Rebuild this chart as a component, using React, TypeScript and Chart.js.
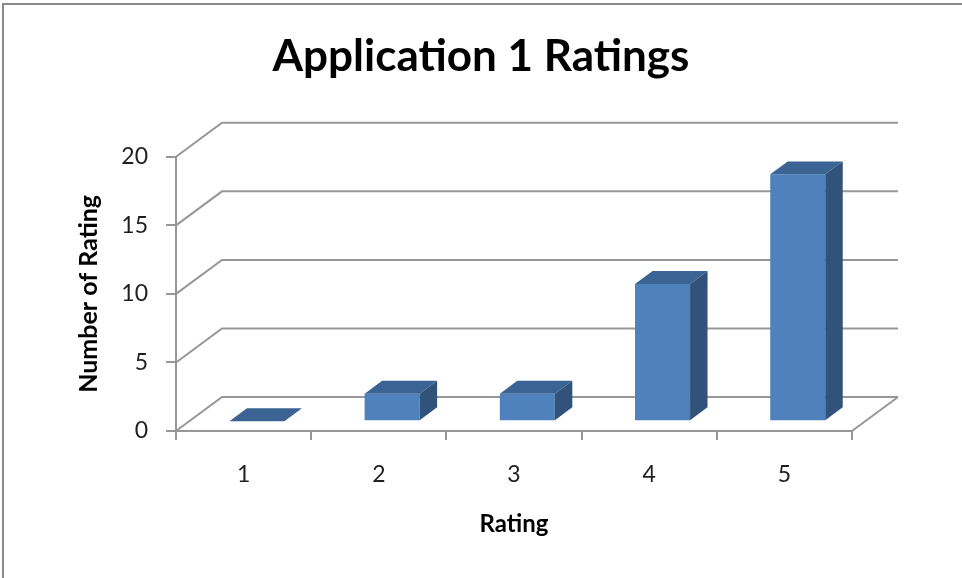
import { useEffect, useRef } from "react";
import { Chart, registerables } from "chart.js";

Chart.register(...registerables);

// Data
const categories = ["1", "2", "3", "4", "5"];
const ratingCounts = [0, 2, 2, 10, 18];
const yMin = 0;
const yMax = 20;
const yStep = 5;
const chartTitle = "Application 1 Ratings";
const xTitle = "Rating";
const yTitle = "Number of Rating";

// 3D look: depth of the floor/walls and where the columns sit inside it
const DEPTH_X = 46;
const DEPTH_Y = 34;
const BAR_FRONT = 0.29;
const BAR_BACK = 0.67;

const GRID_COLOR = "#979797";
const FRONT_COLOR = "#4f81bd";
const TOP_COLOR = "#3b6494";
const SIDE_COLOR = "#31537b";
const FONT = "Lato, 'Open Sans', sans-serif";

const W = 962;
const H = 578;

const threeDPlugin = {
  id: "threeD",
  beforeDraw(chart: any) {
    const { ctx } = chart;
    ctx.save();
    ctx.fillStyle = "#ffffff";
    ctx.fillRect(0, 0, chart.width, chart.height);
    // outer frame (top and left edges)
    ctx.fillStyle = "#8a8a8a";
    ctx.fillRect(2, 3, chart.width - 2, 2);
    ctx.fillRect(2, 3, 2, chart.height - 3);
    ctx.restore();
  },
  beforeDatasetsDraw(chart: any) {
    const { ctx, chartArea, scales } = chart;
    const y = scales.y;
    ctx.save();
    ctx.strokeStyle = GRID_COLOR;
    ctx.lineWidth = 2;
    ctx.lineJoin = "miter";
    for (const t of y.ticks) {
      const py = y.getPixelForValue(t.value);
      ctx.beginPath();
      ctx.moveTo(chartArea.left, py);
      ctx.lineTo(chartArea.left + DEPTH_X, py - DEPTH_Y);
      ctx.lineTo(chartArea.right + DEPTH_X, py - DEPTH_Y);
      ctx.stroke();
    }
    // right edge of the floor
    ctx.beginPath();
    ctx.moveTo(chartArea.right, chartArea.bottom);
    ctx.lineTo(chartArea.right + DEPTH_X, chartArea.bottom - DEPTH_Y);
    ctx.stroke();
    ctx.restore();

    // columns are drawn pushed back into the depth of the floor
    ctx.save();
    ctx.translate(DEPTH_X * BAR_FRONT, -DEPTH_Y * BAR_FRONT);
  },
  afterDatasetsDraw(chart: any) {
    const { ctx } = chart;
    const dx = DEPTH_X * (BAR_BACK - BAR_FRONT);
    const dy = DEPTH_Y * (BAR_BACK - BAR_FRONT);
    const meta = chart.getDatasetMeta(0);
    for (const el of meta.data) {
      const { x, y, width, base } = el.getProps(["x", "y", "width", "base"], true);
      const l = x - width / 2;
      const r = x + width / 2;
      // top face
      ctx.fillStyle = TOP_COLOR;
      ctx.beginPath();
      ctx.moveTo(l, y);
      ctx.lineTo(r, y);
      ctx.lineTo(r + dx, y - dy);
      ctx.lineTo(l + dx, y - dy);
      ctx.closePath();
      ctx.fill();
      // side face
      if (base - y > 0) {
        ctx.fillStyle = SIDE_COLOR;
        ctx.beginPath();
        ctx.moveTo(r, y);
        ctx.lineTo(r + dx, y - dy);
        ctx.lineTo(r + dx, base - dy);
        ctx.lineTo(r, base);
        ctx.closePath();
        ctx.fill();
      }
    }
    ctx.restore();
  },
};

export default function App() {
  const canvasRef = useRef<HTMLCanvasElement | null>(null);

  useEffect(() => {
    const canvas = canvasRef.current;
    if (!canvas) return;
    const chart = new Chart(canvas, {
      type: "bar",
      data: {
        labels: categories,
        datasets: [
          {
            label: yTitle,
            data: ratingCounts,
            backgroundColor: FRONT_COLOR,
            borderWidth: 0,
            categoryPercentage: 1,
            barPercentage: 0.407,
            clip: false as any,
          },
        ],
      },
      options: {
        responsive: false,
        animation: false,
        devicePixelRatio: 1,
        layout: { padding: 0 },
        plugins: {
          legend: { display: false },
          tooltip: { enabled: false },
          title: {
            display: true,
            text: chartTitle,
            color: "#000000",
            font: { family: FONT, size: 44, weight: "bold" },
            padding: { top: 30, bottom: 74 },
          },
        },
        scales: {
          x: {
            type: "category",
            offset: true,
            afterFit(scale: any) {
              scale.height = H - 431;
            },
            grid: {
              offset: true,
              drawOnChartArea: false,
              drawTicks: true,
              tickLength: 9,
              color: GRID_COLOR,
              lineWidth: 2,
            },
            border: { display: true, color: GRID_COLOR, width: 2 },
            ticks: {
              color: "#1e1e1e",
              padding: 21,
              font: { family: FONT, size: 23 },
            },
            title: {
              display: true,
              text: xTitle,
              color: "#000000",
              font: { family: FONT, size: 24, weight: "bold" },
              padding: { top: 0, bottom: 39 },
            },
          },
          y: {
            type: "linear",
            min: yMin,
            max: yMax,
            afterFit(scale: any) {
              scale.width = 176;
            },
            grid: {
              drawOnChartArea: false,
              drawTicks: true,
              tickLength: 10,
              color: GRID_COLOR,
              lineWidth: 2,
            },
            border: { display: true, color: GRID_COLOR, width: 2 },
            ticks: {
              stepSize: yStep,
              color: "#1e1e1e",
              padding: 18,
              font: { family: FONT, size: 23 },
            },
            title: {
              display: true,
              text: yTitle,
              color: "#000000",
              font: { family: FONT, size: 25, weight: "bold" },
              padding: { top: 74, bottom: 0 },
            },
          },
          // empty right-hand band that leaves room for the depth of the back wall
          depth: {
            type: "linear",
            position: "right",
            display: true,
            afterFit(scale: any) {
              scale.width = W - 852;
            },
            grid: { display: false },
            border: { display: false },
            ticks: { display: false },
          },
        },
      },
      plugins: [threeDPlugin],
    });
    return () => chart.destroy();
  }, []);

  return (
    <div style={{ position: "fixed", left: 0, top: 0, width: W, height: H, background: "#fff" }}>
      <canvas ref={canvasRef} width={W} height={H} style={{ display: "block", width: W, height: H }} />
    </div>
  );
}
